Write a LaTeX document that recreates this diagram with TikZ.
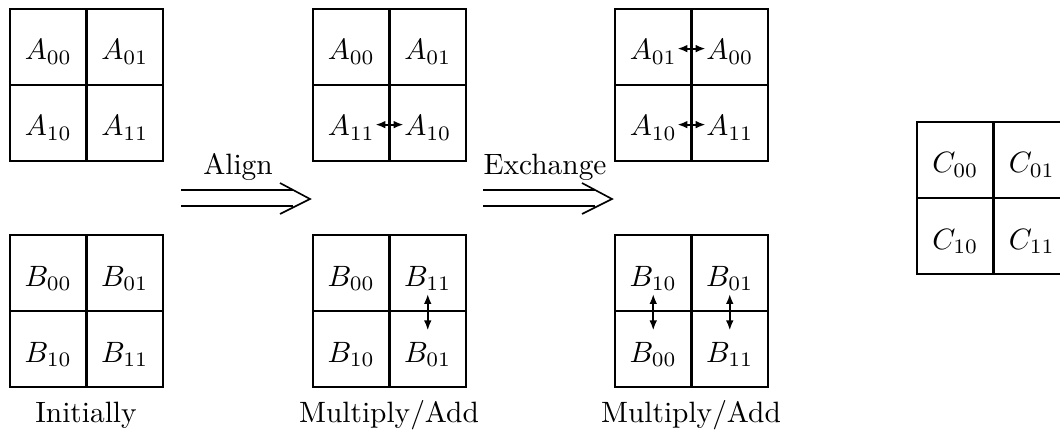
\documentclass[tikz,border=0pt]{standalone}
\usetikzlibrary{arrows.meta}
\begin{document}
\begin{tikzpicture}[x=0.34pt,y=-0.34pt,
  outer/.style={line width=0.85pt},
  midv/.style={line width=1.2pt},
  midh/.style={line width=0.95pt},
  cell/.style={inner sep=0pt,anchor=base},
  swap/.style={{Latex[length=3.4pt,width=2.6pt]}-{Latex[length=3.4pt,width=2.6pt]},line width=0.65pt},
  dbl/.style={line width=0.85pt},
  chev/.style={line width=0.55pt,line join=miter},
  lbl/.style={anchor=base,inner sep=0pt}]
\useasboundingbox (0,0) rectangle (1060,431);
\clip (0,0) rectangle (1060,431);
% grids
\foreach \x/\y in {10/9,10/235,313/9,313/235,615/9,615/235,917/122}{
  \draw[outer] (\x,\y) rectangle ++(153,152);
  \draw[midv] (\x+76.5,\y) -- ++(0,152);
  \draw[midh] (\x,\y+76) -- ++(153,0);
}
% grid 1
\node[cell] (g1a00) at (48.25,60) {$A_{00}$};
\node[cell] (g1a01) at (124.75,60) {$A_{01}$};
\node[cell] (g1a10) at (48.25,136) {$A_{10}$};
\node[cell] (g1a11) at (124.75,136) {$A_{11}$};
\node[cell] (g1b00) at (48.25,286) {$B_{00}$};
\node[cell] (g1b01) at (124.75,286) {$B_{01}$};
\node[cell] (g1b10) at (48.25,362) {$B_{10}$};
\node[cell] (g1b11) at (124.75,362) {$B_{11}$};
% grid 2
\node[cell] (g2a00) at (351.25,60) {$A_{00}$};
\node[cell] (g2a01) at (427.75,60) {$A_{01}$};
\node[cell] (g2a11) at (351.25,136) {$A_{11}$};
\node[cell] (g2a10) at (427.75,136) {$A_{10}$};
\node[cell] (g2b00) at (351.25,286) {$B_{00}$};
\node[cell] (g2b11) at (427.75,286) {$B_{11}$};
\node[cell] (g2b10) at (351.25,362) {$B_{10}$};
\node[cell] (g2b01) at (427.75,362) {$B_{01}$};
% grid 3
\node[cell] (g3a01) at (653.25,60) {$A_{01}$};
\node[cell] (g3a00) at (729.75,60) {$A_{00}$};
\node[cell] (g3a10) at (653.25,136) {$A_{10}$};
\node[cell] (g3a11) at (729.75,136) {$A_{11}$};
\node[cell] (g3b10) at (653.25,286) {$B_{10}$};
\node[cell] (g3b01) at (729.75,286) {$B_{01}$};
\node[cell] (g3b00) at (653.25,362) {$B_{00}$};
\node[cell] (g3b11) at (729.75,362) {$B_{11}$};
% C grid
\node[cell] (c00) at (955.25,173) {$C_{00}$};
\node[cell] (c01) at (1031.75,173) {$C_{01}$};
\node[cell] (c10) at (955.25,249) {$C_{10}$};
\node[cell] (c11) at (1031.75,249) {$C_{11}$};
% swap arrows
\draw[swap] ([yshift=1.2pt]g2a11.east) -- ([yshift=1.2pt]g2a10.west);
\draw[swap] ([yshift=1.2pt]g3a01.east) -- ([yshift=1.2pt]g3a00.west);
\draw[swap] ([yshift=1.2pt]g3a10.east) -- ([yshift=1.2pt]g3a11.west);
\draw[swap,shorten <=1pt,shorten >=3.7pt] (g2b11.south) -- (g2b01.north);
\draw[swap,shorten <=1pt,shorten >=3.7pt] (g3b10.south) -- (g3b00.north);
\draw[swap,shorten <=1pt,shorten >=3.7pt] (g3b01.south) -- (g3b11.north);
% Align arrow
\coordinate (al1s) at (181,190);
\coordinate (al1e) at (293,190);
\coordinate (al2s) at (181,206);
\coordinate (al2e) at (293,206);
\coordinate (alt) at (280,183);
\coordinate (alp) at (310,199);
\coordinate (alb) at (280,214);
\draw[dbl] (al1s) -- (al1e);
\draw[dbl] (al2s) -- (al2e);
\draw[chev] (alt) -- (alp) -- (alb);
\node[lbl] (align) at (238,175) {Align};
% Exchange arrow
\coordinate (ex1s) at (483,190);
\coordinate (ex1e) at (595,190);
\coordinate (ex2s) at (483,206);
\coordinate (ex2e) at (595,206);
\coordinate (ext) at (582,183);
\coordinate (exp) at (612,199);
\coordinate (exb) at (582,214);
\draw[dbl] (ex1s) -- (ex1e);
\draw[dbl] (ex2s) -- (ex2e);
\draw[chev] (ext) -- (exp) -- (exb);
\node[lbl] (exch) at (545,175) {Exchange};
% captions
\node[lbl] (cap1) at (86,422) {Initially};
\node[lbl] (cap2) at (389,422) {Multiply/Add};
\node[lbl] (cap3) at (691,422) {Multiply/Add};
\end{tikzpicture}
\end{document}
